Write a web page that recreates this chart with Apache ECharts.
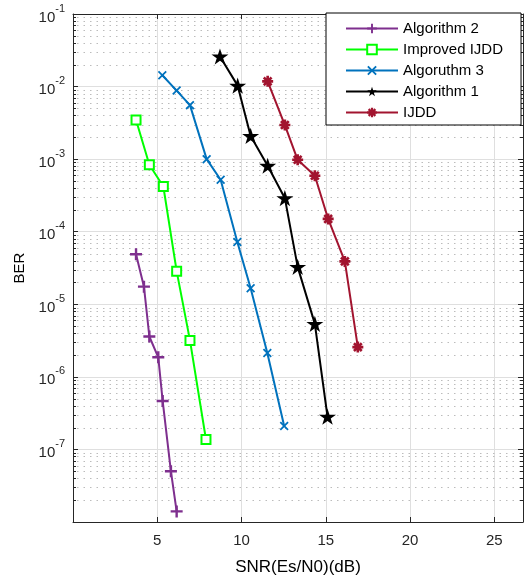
<!DOCTYPE html>
<html>
<head>
<meta charset="utf-8">
<script src="https://cdn.jsdelivr.net/npm/echarts@6/dist/echarts.min.js"></script>
<style>
  html, body { margin: 0; padding: 0; background: #fff; }
  #chart { width: 527px; height: 581px; }
</style>
</head>
<body>
<div id="chart"></div>
<script>
// values (SNR in dB, BER)
var snrAlg2 = [3.74, 4.21, 4.53, 5.06, 5.32, 5.81, 6.15];
var berAlg2 = [4.9e-5, 1.75e-5, 3.6e-6, 1.86e-6, 4.65e-7, 5.0e-8, 1.4e-8];

var snrImp = [3.74, 4.53, 5.36, 6.15, 6.94, 7.89];
var berImp = [3.47e-3, 8.35e-4, 4.2e-4, 2.86e-5, 3.18e-6, 1.37e-7];

var snrAlg3 = [5.30, 6.15, 6.94, 7.93, 8.76, 9.75, 10.54, 11.53, 12.53];
var berAlg3 = [1.43e-2, 8.8e-3, 5.55e-3, 1.0e-3, 5.2e-4, 7.2e-5, 1.66e-5, 2.13e-6, 2.1e-7];

var snrAlg1 = [8.72, 9.77, 10.54, 11.55, 12.57, 13.33, 14.35, 15.10];
var berAlg1 = [2.6e-2, 1.03e-2, 2.09e-3, 8.1e-4, 2.9e-4, 3.28e-5, 5.37e-6, 2.83e-7];

var snrIJDD = [11.55, 12.57, 13.33, 14.35, 15.14, 16.13, 16.90];
var berIJDD = [1.18e-2, 2.95e-3, 9.8e-4, 5.9e-4, 1.5e-4, 3.9e-5, 2.57e-6];

var seriesNames = ['Algorithm 2', 'Improved IJDD', 'Algoruthm 3', 'Algorithm 1', 'IJDD'];
var xTicks = [5, 10, 15, 20, 25];
var decades = [-8, -7, -6, -5, -4, -3, -2, -1];

var X_MIN = 0, X_MAX = 26.7, Y_MIN = 1e-8, Y_MAX = 1e-1;
var FONT = "'Liberation Sans', Arial, Helvetica, sans-serif";

function pairs(xs, ys) {
    var out = [];
    for (var i = 0; i < xs.length; i++) out.push([xs[i], ys[i]]);
    return out;
}

// minor log positions 2..9 x 10^k
var minorVals = [];
for (var d = 0; d < decades.length - 1; d++) {
    for (var m = 2; m <= 9; m++) minorVals.push([m * Math.pow(10, decades[d])]);
}

// marker shapes
var plusPath = 'path://M4,0H6V4H10V6H6V10H4V6H0V4H4Z';
var crossPath = 'path://M0,1.4L1.4,0L5,3.6L8.6,0L10,1.4L6.4,5L10,8.6L8.6,10L5,6.4L1.4,10L0,8.6L3.6,5Z';
var starPath = 'path://M50,0L61.2,34.5L97.6,34.5L68.2,55.9L79.4,90.5L50,69.1L20.6,90.5L31.8,55.9L2.4,34.5L38.8,34.5Z';
// 8-armed asterisk
var astPath = (function () {
    var R = 5, h = 1.2, pts = [];
    for (var k = 0; k < 8; k++) {
        var a = k * Math.PI / 4, c = Math.cos(a), s = Math.sin(a);
        pts.push([5 + R * c + h * s, 5 + R * s - h * c]);
        pts.push([5 + R * c - h * s, 5 + R * s + h * c]);
        var b = a + Math.PI / 8, r = h / Math.sin(Math.PI / 8);
        pts.push([5 + r * Math.cos(b), 5 + r * Math.sin(b)]);
    }
    return 'path://M' + pts.map(function (p) { return p[0].toFixed(2) + ',' + p[1].toFixed(2); }).join('L') + 'Z';
})();

function lineSeries(name, xs, ys, color, symbol, size, hollow) {
    return {
        name: name,
        type: 'line',
        data: pairs(xs, ys),
        symbol: symbol,
        symbolSize: size,
        symbolKeepAspect: true,
        showAllSymbol: true,
        lineStyle: { color: color, width: 2 },
        itemStyle: hollow ? { color: '#fff', borderColor: color, borderWidth: 2 } : { color: color, borderWidth: 0 },
        z: 5
    };
}

var myChart = echarts.init(document.getElementById('chart'), null, { renderer: 'canvas' });

var option = {
    animation: false,
    backgroundColor: '#fff',
    textStyle: { fontFamily: FONT, color: '#000' },
    grid: { left: 73, right: 4, top: 14, bottom: 58 },
    legend: {
        data: seriesNames,
        orient: 'vertical',
        left: 326,
        top: 13,
        padding: [8, 18, 5, 19],
        itemWidth: 52,
        itemHeight: 12,
        itemGap: 6,
        backgroundColor: '#fff',
        borderColor: '#000',
        borderWidth: 1,
        textStyle: { fontFamily: FONT, fontSize: 15, color: '#000' },
        z: 20
    },
    xAxis: [{
        type: 'value',
        min: X_MIN, max: X_MAX, interval: 5,
        name: 'SNR(Es/N0)(dB)',
        nameLocation: 'middle',
        nameGap: 37,
        nameTextStyle: { fontFamily: FONT, fontSize: 17, color: '#000' },
        axisLine: { lineStyle: { color: '#262626', width: 1 } },
        axisTick: { inside: true, length: 5, lineStyle: { color: '#262626' } },
        axisLabel: {
            fontFamily: FONT, fontSize: 15, color: '#262626', margin: 11,
            formatter: function (v) { return xTicks.indexOf(v) >= 0 ? String(v) : ''; }
        },
        splitLine: { show: true, lineStyle: { color: '#dfdfdf', width: 1 } }
    }, {
        type: 'value',
        position: 'top',
        min: X_MIN, max: X_MAX, interval: 5,
        axisLine: { onZero: false, lineStyle: { color: '#262626', width: 1 } },
        axisTick: { inside: true, length: 5, lineStyle: { color: '#262626' } },
        axisLabel: { show: false },
        splitLine: { show: false }
    }],
    yAxis: [{
        type: 'log',
        logBase: 10,
        min: Y_MIN, max: Y_MAX,
        interval: 1,
        splitNumber: 7,
        name: 'BER',
        nameLocation: 'middle',
        nameGap: 46,
        nameTextStyle: { fontFamily: FONT, fontSize: 15, color: '#000' },
        axisLine: { show: true, lineStyle: { color: '#262626', width: 1 } },
        axisTick: { inside: true, length: 5, lineStyle: { color: '#262626' } },
        axisLabel: {
            margin: 8,
            formatter: function (v) {
                var e = Math.round(Math.log(v) / Math.LN10);
                if (e <= -8) return '';
                return '{b|10}{s|' + e + '}';
            },
            rich: {
                b: { fontFamily: FONT, fontSize: 15, color: '#262626', lineHeight: 22, verticalAlign: 'bottom' },
                s: { fontFamily: FONT, fontSize: 11, color: '#262626', lineHeight: 22, verticalAlign: 'top' }
            }
        },
        splitLine: { show: true, lineStyle: { color: '#dfdfdf', width: 1 } }
    }, {
        type: 'log',
        logBase: 10,
        position: 'right',
        min: Y_MIN, max: Y_MAX,
        interval: 1,
        splitNumber: 7,
        axisLine: { show: true, onZero: false, lineStyle: { color: '#262626', width: 1 } },
        axisTick: { inside: true, length: 5, lineStyle: { color: '#262626' } },
        axisLabel: { show: false },
        splitLine: { show: false }
    }],
    series: [
        {
            // minor log grid (dotted) and minor ticks on both sides
            name: 'minor',
            type: 'custom',
            silent: true,
            clip: false,
            z: 1,
            data: minorVals,
            encode: { y: 0 },
            renderItem: function (params, api) {
                var v = api.value(0);
                var pL = api.coord([X_MIN, v]);
                var pR = api.coord([X_MAX, v]);
                var y = Math.round(pL[1]) + 0.5;
                return {
                    type: 'group',
                    children: [{
                        type: 'line',
                        shape: { x1: pL[0] + 4, y1: y, x2: pR[0], y2: y },
                        style: { stroke: '#bcbcbc', lineWidth: 1, lineDash: [1.5, 5] }
                    }, {
                        type: 'line',
                        shape: { x1: pL[0], y1: y, x2: pL[0] + 3, y2: y },
                        style: { stroke: '#262626', lineWidth: 1 }
                    }, {
                        type: 'line',
                        shape: { x1: pR[0] - 3, y1: y, x2: pR[0], y2: y },
                        style: { stroke: '#262626', lineWidth: 1 }
                    }]
                };
            }
        },
        lineSeries(seriesNames[0], snrAlg2, berAlg2, '#7E2F8E', plusPath, 12, false),
        lineSeries(seriesNames[1], snrImp, berImp, '#00FF00', 'rect', 9, true),
        lineSeries(seriesNames[2], snrAlg3, berAlg3, '#0072BD', crossPath, 9, false),
        lineSeries(seriesNames[3], snrAlg1, berAlg1, '#000000', starPath, 17, false),
        lineSeries(seriesNames[4], snrIJDD, berIJDD, '#A2142F', astPath, 11, false)
    ]
};

myChart.setOption(option);
window.onresize = myChart.resize;
</script>
</body>
</html>
